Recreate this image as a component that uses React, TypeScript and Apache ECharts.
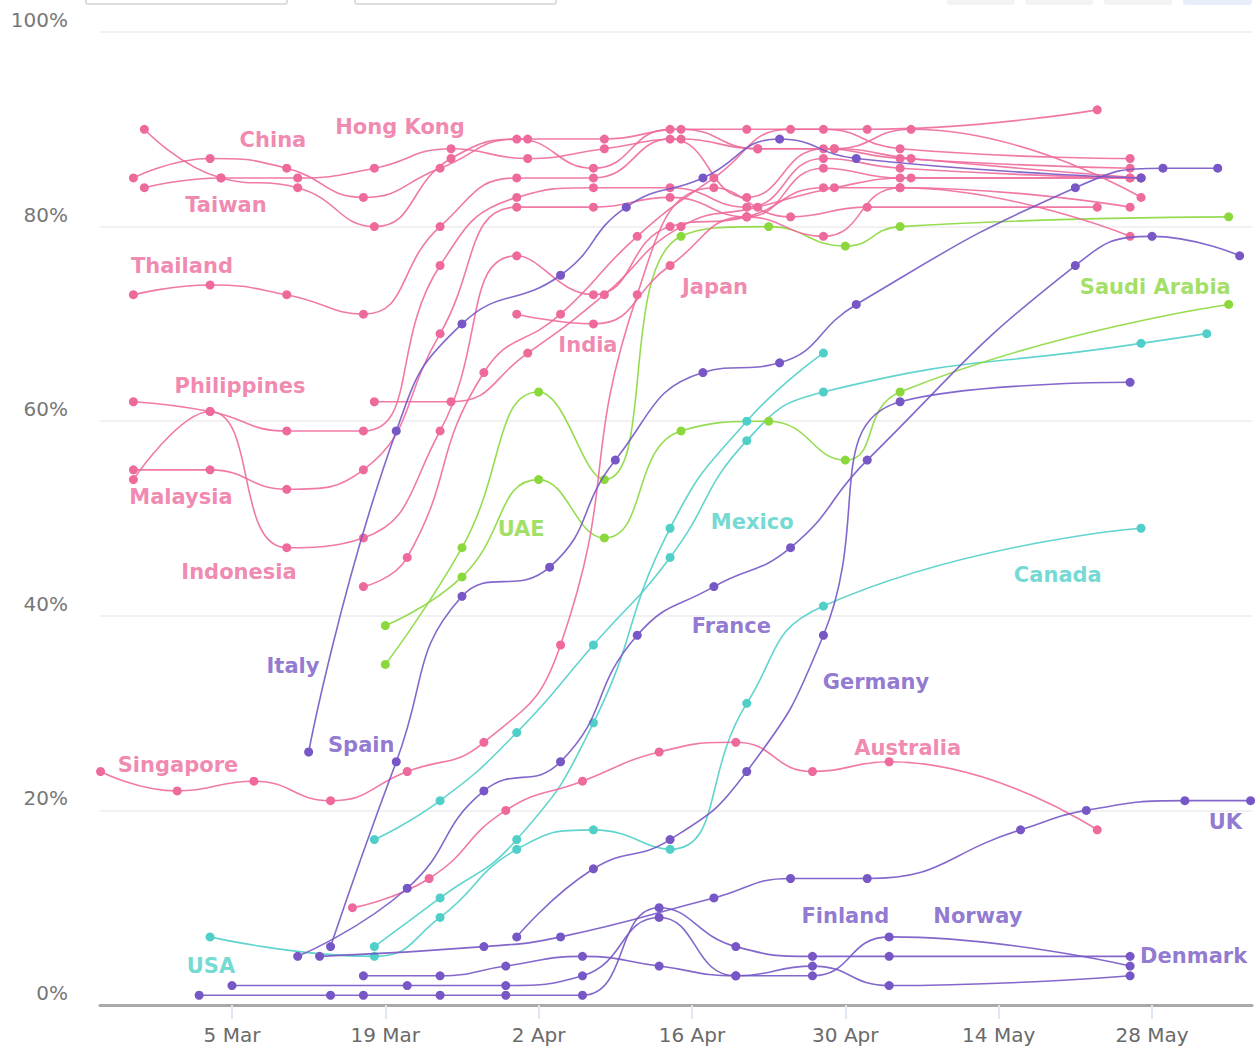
import React, { useEffect, useRef } from "react";
import * as echarts from "echarts";

type Pt = [string, number];

// ---- axis ticks ----
const xTickDates = ["3-5", "3-19", "4-2", "4-16", "4-30", "5-14", "5-28"];
const yTickValues = [0, 20, 40, 60, 80, 100];

// ---- Asia-Pacific (pink) ----
const hongKong: Pt[] = [["2-25", 85], ["3-3", 87], ["3-10", 86], ["3-17", 83], ["3-24", 86], ["3-31", 89], ["4-7", 86], ["4-14", 90], ["4-21", 90], ["4-28", 90], ["5-5", 88], ["5-26", 87]];
const thailand: Pt[] = [["2-25", 73], ["3-3", 74], ["3-10", 73], ["3-17", 71], ["3-24", 80], ["3-31", 85], ["4-7", 85], ["4-14", 89], ["4-21", 83], ["4-28", 88], ["5-5", 87], ["5-26", 86]];
const philippines: Pt[] = [["2-25", 62], ["3-3", 61], ["3-10", 59], ["3-17", 59], ["3-24", 76], ["3-31", 83], ["4-7", 84], ["4-14", 84], ["4-21", 82], ["4-28", 87], ["5-5", 86], ["5-26", 85]];
const malaysia: Pt[] = [["2-25", 55], ["3-3", 55], ["3-10", 53], ["3-17", 55], ["3-24", 69], ["3-31", 82], ["4-7", 82], ["4-14", 83], ["4-21", 81], ["4-28", 86], ["5-5", 85], ["5-26", 85]];
const indonesia: Pt[] = [["2-25", 54], ["3-3", 61], ["3-10", 47], ["3-17", 48], ["3-24", 59], ["3-31", 77], ["4-7", 73], ["4-14", 80], ["4-21", 81], ["4-28", 84], ["5-5", 84], ["5-26", 82]];
const japan: Pt[] = [["3-31", 71], ["4-7", 70], ["4-14", 76], ["4-21", 81], ["4-28", 79], ["5-5", 84], ["5-26", 79]];
const china: Pt[] = [["2-26", 90], ["3-4", 85], ["3-11", 84], ["3-18", 80], ["3-25", 87], ["4-1", 89], ["4-8", 89], ["4-15", 90], ["4-22", 88], ["4-29", 88], ["5-6", 90], ["5-27", 83]];
const taiwan: Pt[] = [["2-26", 84], ["3-4", 85], ["3-11", 85], ["3-18", 86], ["3-25", 88], ["4-1", 87], ["4-8", 88], ["4-15", 89], ["4-22", 88], ["4-29", 88], ["5-6", 87], ["5-27", 85]];
const asiaOther: Pt[] = [["3-18", 62], ["3-25", 62], ["4-1", 67], ["4-8", 73], ["4-15", 80], ["4-22", 82], ["4-29", 84], ["5-6", 85], ["5-27", 85]];
const singapore: Pt[] = [["2-22", 24], ["2-29", 22], ["3-7", 23], ["3-14", 21], ["3-21", 24], ["3-28", 27], ["4-4", 37], ["4-11", 73], ["4-18", 84], ["4-25", 81], ["5-2", 82], ["5-23", 82]];
const india: Pt[] = [["3-17", 43], ["3-21", 46], ["3-28", 65], ["4-4", 71], ["4-11", 79], ["4-18", 85], ["4-25", 90], ["5-2", 90], ["5-23", 92]];
const australia: Pt[] = [["3-16", 10], ["3-23", 13], ["3-30", 20], ["4-6", 23], ["4-13", 26], ["4-20", 27], ["4-27", 24], ["5-4", 25], ["5-23", 18]];

// ---- Europe (purple) ----
const italy: Pt[] = [["3-12", 26], ["3-20", 59], ["3-26", 70], ["4-4", 75], ["4-10", 82], ["4-17", 85], ["4-24", 89], ["5-1", 87], ["5-27", 85]];
const spain: Pt[] = [["3-14", 6], ["3-20", 25], ["3-26", 42], ["4-3", 45], ["4-9", 56], ["4-17", 65], ["4-24", 66], ["5-1", 72], ["5-21", 84], ["5-29", 86], ["6-3", 86]];
const france: Pt[] = [["3-11", 5], ["3-21", 12], ["3-28", 22], ["4-4", 25], ["4-11", 38], ["4-18", 43], ["4-25", 47], ["5-2", 56], ["5-21", 76], ["5-28", 79], ["6-5", 77]];
const germany: Pt[] = [["3-31", 7], ["4-7", 14], ["4-14", 17], ["4-21", 24], ["4-28", 38], ["5-5", 62], ["5-26", 64]];
const uk: Pt[] = [["3-13", 5], ["3-28", 6], ["4-4", 7], ["4-18", 11], ["4-25", 13], ["5-2", 13], ["5-16", 18], ["5-22", 20], ["5-31", 21], ["6-6", 21]];
const denmark: Pt[] = [["3-2", 1], ["3-14", 1], ["3-17", 1], ["3-24", 1], ["3-30", 1], ["4-6", 1], ["4-13", 10], ["4-20", 6], ["4-27", 5], ["5-4", 5], ["5-26", 5]];
const norway: Pt[] = [["3-5", 2], ["3-21", 2], ["3-30", 2], ["4-6", 3], ["4-13", 9], ["4-20", 3], ["4-27", 3], ["5-4", 7], ["5-26", 4]];
const finland: Pt[] = [["3-17", 3], ["3-24", 3], ["3-30", 4], ["4-6", 5], ["4-13", 4], ["4-20", 3], ["4-27", 4], ["5-4", 2], ["5-26", 3]];

// ---- Americas (cyan) ----
const usa: Pt[] = [["3-3", 7], ["3-18", 5], ["3-24", 9], ["3-31", 16], ["4-7", 18], ["4-14", 16], ["4-21", 31], ["4-28", 41], ["5-27", 49]];
const mexico: Pt[] = [["3-18", 6], ["3-24", 11], ["3-31", 17], ["4-7", 29], ["4-14", 49], ["4-21", 60], ["4-28", 67]];
const canada: Pt[] = [["3-18", 17], ["3-24", 21], ["3-31", 28], ["4-7", 37], ["4-14", 46], ["4-21", 58], ["4-28", 63], ["5-27", 68], ["6-2", 69]];

// ---- Middle East (green) ----
const uae: Pt[] = [["3-19", 35], ["3-26", 47], ["4-2", 63], ["4-8", 54], ["4-15", 79], ["4-23", 80], ["4-30", 78], ["5-5", 80], ["6-4", 81]];
const saudiArabia: Pt[] = [["3-19", 39], ["3-26", 44], ["4-2", 54], ["4-8", 48], ["4-15", 59], ["4-23", 60], ["4-30", 56], ["5-5", 63], ["6-4", 72]];

const PINK = "#ee6a9c";
const PURPLE = "#7657c5";
const CYAN = "#4fcfc8";
const GREEN = "#8bd83d";

const pinkSeries = [hongKong, thailand, philippines, malaysia, indonesia, japan, china, taiwan, asiaOther, singapore, india, australia];
const purpleSeries = [italy, spain, france, germany, uk, denmark, norway, finland];
const cyanSeries = [usa, mexico, canada];
const greenSeries = [uae, saudiArabia];

// country name labels: [text, day offset from 1 Mar, value, colour]
const nameLabels: [string, number, number, string][] = [
  ["China", 7.74, 88.9, PINK],
  ["Hong Kong", 19.34, 90.2, PINK],
  ["Taiwan", 3.45, 82.2, PINK],
  ["Thailand", -0.57, 76.0, PINK],
  ["Japan", 48.1, 73.8, PINK],
  ["India", 36.5, 67.8, PINK],
  ["Philippines", 4.73, 63.6, PINK],
  ["Malaysia", -0.66, 52.2, PINK],
  ["Indonesia", 4.64, 44.5, PINK],
  ["Singapore", -0.93, 24.7, PINK],
  ["Australia", 65.7, 26.4, PINK],
  ["UAE", 30.4, 48.9, GREEN],
  ["Saudi Arabia", 88.3, 73.8, GREEN],
  ["Mexico", 51.5, 49.6, CYAN],
  ["Canada", 79.4, 44.2, CYAN],
  ["USA", 2.08, 4.0, CYAN],
  ["France", 49.6, 39.0, PURPLE],
  ["Italy", 9.57, 34.8, PURPLE],
  ["Germany", 62.8, 33.2, PURPLE],
  ["Spain", 15.8, 26.7, PURPLE],
  ["UK", 94.7, 18.8, PURPLE],
  ["Finland", 60.0, 9.1, PURPLE],
  ["Norway", 72.1, 9.1, PURPLE],
  ["Denmark", 91.8, 5.0, PURPLE],
];

const MONTHS = ["Jan", "Feb", "Mar", "Apr", "May", "Jun", "Jul"];
const BASE = Date.UTC(2020, 2, 1);
function dayOf(s: string): number {
  const [m, d] = s.split("-").map(Number);
  return Math.round((Date.UTC(2020, m - 1, d) - BASE) / 86400000);
}
function dayLabel(v: number): string {
  const dt = new Date(BASE + Math.round(v) * 86400000);
  return `${dt.getUTCDate()} ${MONTHS[dt.getUTCMonth()]}`;
}

const AXIS_FONT = "'DejaVu Sans', Lato, sans-serif";
const NAME_FONT = "'DejaVu Sans', 'Noto Sans', sans-serif";

function lineSeries(pts: Pt[], color: string, z: number) {
  return {
    type: "line",
    data: pts.map(([d, v]) => [dayOf(d), v]),
    smooth: 0.5,
    symbol: "circle",
    symbolSize: 9,
    showSymbol: true,
    lineStyle: { color, width: 1.6, opacity: 0.9 },
    itemStyle: { color },
    z,
    silent: true,
    emphasis: { disabled: true },
  };
}

export default function App() {
  const ref = useRef<HTMLDivElement>(null);
  useEffect(() => {
    if (!ref.current) return;
    const chart = echarts.init(ref.current, null, { renderer: "svg" });
    const tickVals = xTickDates.map(dayOf);
    const series: any[] = [
      ...cyanSeries.map((s) => lineSeries(s, CYAN, 2)),
      ...greenSeries.map((s) => lineSeries(s, GREEN, 2)),
      ...pinkSeries.map((s) => lineSeries(s, PINK, 3)),
      ...purpleSeries.map((s) => lineSeries(s, PURPLE, 4)),
      {
        type: "scatter",
        symbolSize: 1,
        itemStyle: { color: "rgba(0,0,0,0)" },
        silent: true,
        z: 10,
        data: nameLabels.map(([n, x, y, c]) => ({
          name: n,
          value: [x, y],
          label: { color: c },
        })),
        label: {
          show: true,
          position: "inside",
          formatter: "{b}",
          fontSize: 21,
          fontWeight: "bold",
          fontFamily: NAME_FONT,
        },
      },
    ];
    chart.setOption({
      animation: false,
      backgroundColor: "#ffffff",
      grid: { left: 100, right: 5, top: 32, bottom: 45, containLabel: false },
      xAxis: {
        type: "value",
        min: -8.05,
        max: 97.13,
        splitLine: { show: false },
        axisLine: { show: true, onZero: false, lineStyle: { color: "#a9a9a9", width: 3 } },
        axisTick: { show: true, customValues: tickVals, length: 14, lineStyle: { color: "#dfe6f4", width: 2 } },
        axisLabel: {
          customValues: tickVals,
          formatter: (v: number) => dayLabel(v),
          color: "#6a6a6a",
          fontSize: 20,
          margin: 20,
          fontFamily: AXIS_FONT,
        },
      },
      yAxis: {
        type: "value",
        min: yTickValues[0],
        max: yTickValues[yTickValues.length - 1],
        interval: 20,
        axisLine: { show: false },
        axisTick: { show: false },
        splitLine: { lineStyle: { color: "#ececec", width: 1.5 } },
        axisLabel: {
          formatter: "{value}%",
          color: "#777",
          fontSize: 20,
          margin: 32,
          verticalAlign: "bottom",
          padding: [0, 0, 2, 0],
          fontFamily: AXIS_FONT,
        },
      },
      graphic: [
        { type: "rect", shape: { x: 86, y: -12, width: 201, height: 16, r: 2 }, style: { fill: "#fff", stroke: "#d4d4d4", lineWidth: 1.5 } },
        { type: "rect", shape: { x: 355, y: -12, width: 201, height: 16, r: 2 }, style: { fill: "#fff", stroke: "#d4d4d4", lineWidth: 1.5 } },
        { type: "rect", shape: { x: 947, y: -12, width: 68, height: 17, r: 3 }, style: { fill: "#f3f3f3" } },
        { type: "rect", shape: { x: 1025, y: -12, width: 68, height: 17, r: 3 }, style: { fill: "#f3f3f3" } },
        { type: "rect", shape: { x: 1104, y: -12, width: 68, height: 17, r: 3 }, style: { fill: "#f3f3f3" } },
        { type: "rect", shape: { x: 1183, y: -12, width: 69, height: 17, r: 3 }, style: { fill: "#e7edf9" } },
      ],
      series,
    });
    return () => chart.dispose();
  }, []);
  return (
    <div
      ref={ref}
      style={{ position: "fixed", left: 0, top: 0, width: 1257, height: 1050, background: "#fff" }}
    />
  );
}
